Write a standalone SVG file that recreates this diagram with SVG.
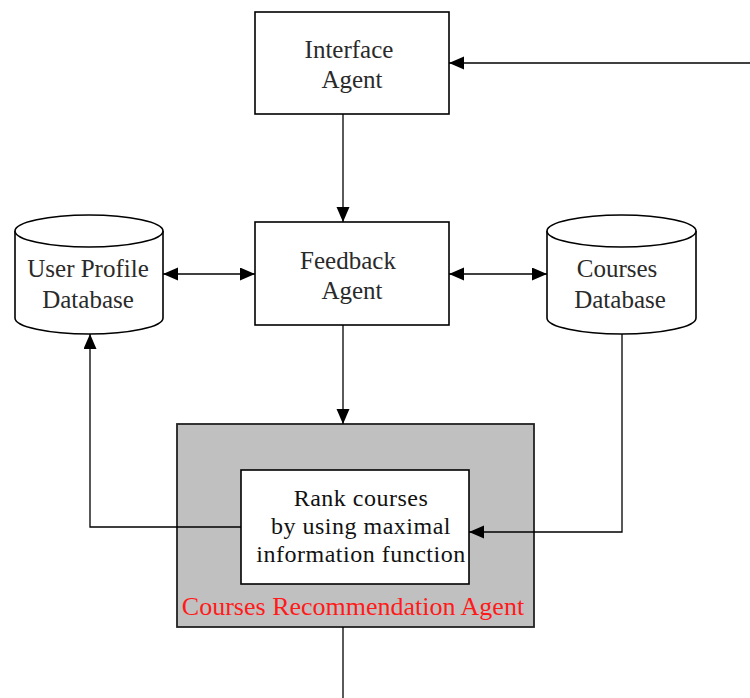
<svg xmlns="http://www.w3.org/2000/svg" width="750" height="698" viewBox="0 0 750 698">
<style>
.box{fill:#fff;stroke:#000;stroke-width:1.6}
.outer{fill:#c0c0c0;stroke:#222;stroke-width:1.8}
.cyl{fill:#fff;stroke:#000;stroke-width:1.6}
.t{font-family:"Liberation Serif","Times New Roman",serif;font-size:25px;fill:#2a2a2a;text-anchor:middle}
.ti{font-family:"Liberation Serif","Times New Roman",serif;font-size:24px;letter-spacing:0.5px;fill:#111;text-anchor:middle}
.tr{font-family:"Liberation Serif","Times New Roman",serif;font-size:26px;fill:#ff1a1a;text-anchor:middle}
.c{fill:none;stroke:#000;stroke-width:1.3}
</style>
<defs>
<marker id="ah" markerUnits="userSpaceOnUse" markerWidth="16" markerHeight="14" refX="15" refY="6.5" orient="auto-start-reverse">
<path d="M0,0 L15,6.5 L0,13 Z" fill="#000"/>
</marker>
</defs>
<rect width="750" height="698" fill="#fff"/>
<g id="interface-agent">
<rect class="box" x="255" y="12" width="194" height="102"/>
<text class="t" x="349" y="58">Interface</text>
<text class="t" x="352" y="88">Agent</text>
</g>
<g id="feedback-agent">
<rect class="box" x="255" y="222" width="194" height="103"/>
<text class="t" x="348" y="269">Feedback</text>
<text class="t" x="352" y="299">Agent</text>
</g>
<g id="user-profile-db">
<path class="cyl" d="M15,231 A74,16 0 0 1 163,231 L163,318 A74,16 0 0 1 15,318 Z"/>
<path class="cyl" fill="none" d="M15,231 A74,16 0 0 0 163,231"/>
<text class="t" x="88" y="277">User Profile</text>
<text class="t" x="88" y="308">Database</text>
</g>
<g id="courses-db">
<path class="cyl" d="M547,231 A74.5,16 0 0 1 696,231 L696,318 A74.5,16 0 0 1 547,318 Z"/>
<path class="cyl" fill="none" d="M547,231 A74.5,16 0 0 0 696,231"/>
<text class="t" x="617" y="277">Courses</text>
<text class="t" x="620" y="308">Database</text>
</g>
<g id="courses-recommendation-agent">
<rect class="outer" x="177" y="424" width="357" height="203"/>
<text class="tr" x="353" y="615">Courses Recommendation Agent</text>
</g>
<g id="rank-courses">
<rect class="box" x="241" y="470" width="228" height="114"/>
<text class="ti" x="361" y="506">Rank courses</text>
<text class="ti" x="361" y="534">by using maximal</text>
<text class="ti" x="361" y="562">information function</text>
</g>
<g id="connectors">
<path class="c" d="M750,63 H449" marker-end="url(#ah)"/>
<path class="c" d="M343,114 V222" marker-end="url(#ah)"/>
<path class="c" d="M163,274 H255" marker-start="url(#ah)" marker-end="url(#ah)"/>
<path class="c" d="M449,274 H547" marker-start="url(#ah)" marker-end="url(#ah)"/>
<path class="c" d="M343,325 V424" marker-end="url(#ah)"/>
<path class="c" d="M622,334 V532 H469" marker-end="url(#ah)"/>
<path class="c" d="M241,527 H90 V334" marker-end="url(#ah)"/>
<path class="c" d="M343,627 V698" stroke-width="1.8"/>
</g>
</svg>
